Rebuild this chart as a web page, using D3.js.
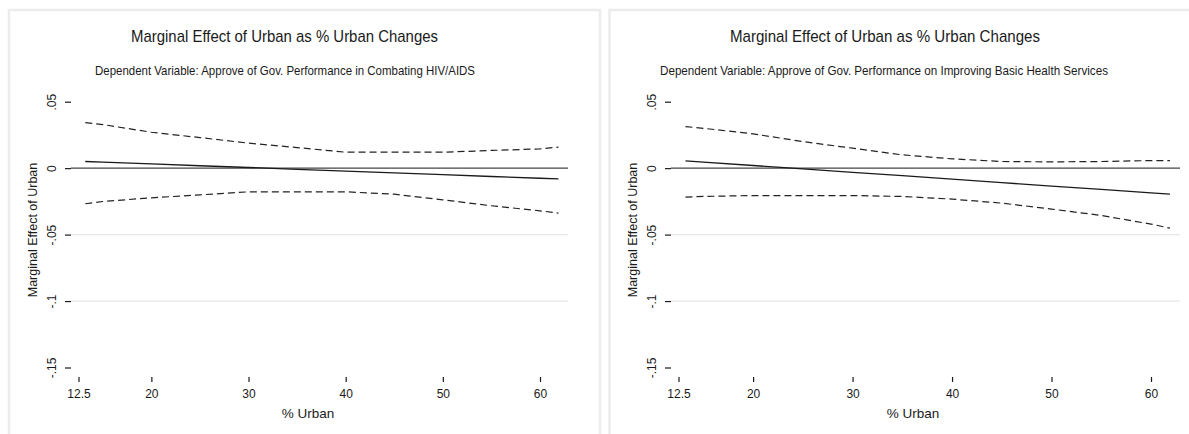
<!DOCTYPE html>
<html>
<head>
<meta charset="utf-8">
<script src="https://cdn.jsdelivr.net/npm/d3@7/dist/d3.min.js"></script>
<style>
  html, body { margin: 0; padding: 0; background: #fff; }
  svg { display: block; font-family: "Liberation Sans", Arial, sans-serif; }
</style>
</head>
<body>
<svg id="chart" width="1189" height="434"></svg>
<script>
// % urban values at which the marginal effect was evaluated
const urbanPct = [13.2, 15, 20, 25, 30, 35, 40, 45, 50, 55, 60, 61.9];

// Panel 1: approval of government performance in combating HIV/AIDS
const hivEffect = [0.0050, 0.0045, 0.0032, 0.0018, 0.0005, -0.0009, -0.0022, -0.0036, -0.0049, -0.0063, -0.0076, -0.0081];
const hivUpper  = [0.0343, 0.0328, 0.0270, 0.0230, 0.0188, 0.0155, 0.0120, 0.0120, 0.0120, 0.0133, 0.0145, 0.0158];
const hivLower  = [-0.0268, -0.0251, -0.0223, -0.0201, -0.0178, -0.0178, -0.0178, -0.0196, -0.0238, -0.0283, -0.0321, -0.0338];

// Panel 2: approval of government performance on improving basic health services
const healthEffect = [0.0055, 0.0046, 0.0020, -0.0006, -0.0032, -0.0057, -0.0083, -0.0109, -0.0135, -0.0160, -0.0186, -0.0196];
const healthUpper  = [0.0313, 0.0300, 0.0258, 0.0200, 0.0150, 0.0100, 0.0070, 0.0050, 0.0047, 0.0050, 0.0057, 0.0057];
const healthLower  = [-0.0218, -0.0213, -0.0206, -0.0206, -0.0206, -0.0213, -0.0233, -0.0263, -0.0308, -0.0356, -0.0421, -0.0451];

// Axis ticks
const xTicks = [12.5, 20, 30, 40, 50, 60];
const yTicks = [0.05, 0, -0.05, -0.1, -0.15];
const yTickLabels = [".05", "0", "-.05", "-.1", "-.15"];
const yGrid = [-0.05, -0.1];

const mainTitle = "Marginal Effect of Urban as % Urban Changes";
const xTitle = "% Urban";
const yTitle = "Marginal Effect of Urban";

const panels = [
  {
    subtitle: "Dependent Variable: Approve of Gov. Performance in Combating HIV/AIDS",
    effect: hivEffect, upper: hivUpper, lower: hivLower,
    frame: [9, 10, 591],
    xRange: [78.5, 540], plotLeft: 65, plotRight: 568,
    titleX: 284.5, titleW: 307, subX: 285, subW: 380,
    xTitleX: 308, yTitleX: 37, yLabX: 56
  },
  {
    subtitle: "Dependent Variable: Approve of Gov. Performance on Improving Basic Health Services",
    effect: healthEffect, upper: healthUpper, lower: healthLower,
    frame: [609.5, 10, 590],
    xRange: [678.5, 1151], plotLeft: 665, plotRight: 1180,
    titleX: 885, titleW: 310, subX: 884, subW: 448,
    xTitleX: 913, yTitleX: 637, yLabX: 656
  }
];

const svg = d3.select("#chart");
const y = d3.scaleLinear().domain([0.05, -0.15]).range([101.7, 367.5]);
const ink = "#1a1a1a";

panels.forEach(p => {
  const g = svg.append("g");
  const x = d3.scaleLinear().domain([12.5, 60]).range(p.xRange);

  // light frame around the panel
  g.append("path")
    .attr("d", `M${p.frame[0]},440 V${p.frame[1]} H${p.frame[0] + p.frame[2]} V440`)
    .attr("fill", "none").attr("stroke", "#ececec").attr("stroke-width", 2.5);

  // titles
  g.append("text").attr("x", p.titleX).attr("y", 42)
    .attr("text-anchor", "middle").attr("font-size", 17).attr("fill", ink)
    .attr("textLength", p.titleW).attr("lengthAdjust", "spacingAndGlyphs")
    .text(mainTitle);
  g.append("text").attr("x", p.subX).attr("y", 74.5)
    .attr("text-anchor", "middle").attr("font-size", 13.5).attr("fill", ink)
    .attr("textLength", p.subW).attr("lengthAdjust", "spacingAndGlyphs")
    .text(p.subtitle);

  // horizontal grid lines
  g.selectAll(".grid").data(yGrid).enter().append("line")
    .attr("x1", p.plotLeft + 6).attr("x2", p.plotRight)
    .attr("y1", d => y(d)).attr("y2", d => y(d))
    .attr("stroke", "#e6e6e6").attr("stroke-width", 1.2);

  // y axis: ticks and rotated labels (no axis line)
  const yAxis = d3.axisLeft(y).tickValues(yTicks).tickSize(6)
    .tickFormat((d, i) => yTickLabels[i]);
  const ya = g.append("g").attr("transform", `translate(${p.plotLeft + 6},0)`).call(yAxis);
  ya.select(".domain").remove();
  ya.selectAll(".tick line").attr("stroke", ink).attr("stroke-width", 1.2);
  ya.selectAll(".tick text")
    .attr("x", null).attr("dy", null)
    .attr("transform", `translate(${p.yLabX - p.plotLeft - 6},0) rotate(-90)`)
    .attr("text-anchor", "middle")
    .attr("font-size", 12).attr("font-family", "Liberation Sans, Arial, sans-serif")
    .attr("fill", ink);

  // x axis: ticks and labels (no axis line)
  const xAxis = d3.axisBottom(x).tickValues(xTicks).tickSize(5)
    .tickFormat(d => d === 12.5 ? "12.5" : String(d));
  const xa = g.append("g").attr("transform", "translate(0,377)").call(xAxis);
  xa.select(".domain").remove();
  xa.selectAll(".tick line").attr("stroke", ink).attr("stroke-width", 1.2);
  xa.selectAll(".tick text")
    .attr("y", 21).attr("dy", null)
    .attr("font-size", 12).attr("font-family", "Liberation Sans, Arial, sans-serif")
    .attr("fill", ink);

  // axis titles
  g.append("text").attr("x", p.xTitleX).attr("y", 418)
    .attr("text-anchor", "middle").attr("font-size", 13.5).attr("fill", ink)
    .text(xTitle);
  g.append("text")
    .attr("transform", `translate(${p.yTitleX},230) rotate(-90)`)
    .attr("text-anchor", "middle").attr("font-size", 12.5).attr("fill", ink)
    .text(yTitle);

  // reference line at zero
  g.append("line")
    .attr("x1", p.plotLeft + 6).attr("x2", p.plotRight)
    .attr("y1", y(0)).attr("y2", y(0))
    .attr("stroke", "#444").attr("stroke-width", 1.2);

  const line = vals => d3.line()
    .x((d, i) => x(urbanPct[i]))
    .y(d => y(d))(vals);

  // confidence bounds
  [p.upper, p.lower].forEach(vals => {
    g.append("path").attr("d", line(vals))
      .attr("fill", "none").attr("stroke", "#222").attr("stroke-width", 1.2)
      .attr("stroke-dasharray", "7,4");
  });

  // marginal effect
  g.append("path").attr("d", line(p.effect))
    .attr("fill", "none").attr("stroke", "#1a1a1a").attr("stroke-width", 1.3);
});
</script>
</body>
</html>
